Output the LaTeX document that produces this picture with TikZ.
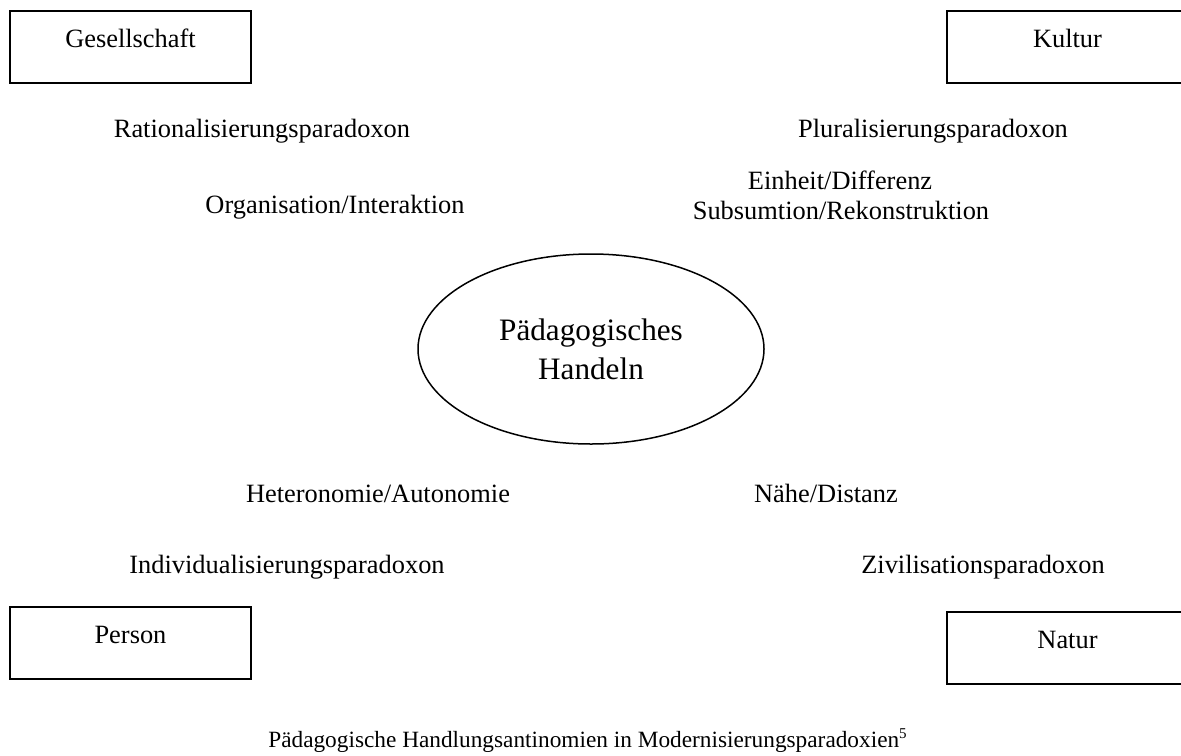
\documentclass[tikz,border=0pt]{standalone}
\usepackage{fontspec}
\setmainfont{Liberation Serif}
\usetikzlibrary{shapes.geometric}
\begin{document}
\begin{tikzpicture}[x=0.5pt,y=-0.5pt,
  box/.style={draw, line width=1pt, minimum width=120.5pt, text height=18pt, text depth=18pt, inner sep=0pt, font=\fontsize{13.2pt}{16pt}\selectfont},
  lbl/.style={anchor=base, inner sep=0pt, font=\fontsize{13.2pt}{16pt}\selectfont},
  caplbl/.style={anchor=base, inner sep=0pt, font=\fontsize{11.65pt}{14pt}\selectfont},
  ell/.style={draw, ellipse, line width=0.75pt, minimum width=173pt, minimum height=95pt, inner sep=0pt, align=center, font=\fontsize{15.6pt}{19.5pt}\selectfont}]
\useasboundingbox (0,0) rectangle (1181,755);
\clip (0,0) rectangle (1181,755);
% boxes
\node[box] (ges) at (130.5,47) {Gesellschaft};
\node[box] (kul) at (1067.5,47) {Kultur};
\node[box] (per) at (130.5,643) {Person};
\node[box] (nat) at (1067.5,648) {Natur};
% centre
\node[ell] (ph) at (591,349) {Pädagogisches\\Handeln};
% labels
\node[lbl] (rat) at (262,137) {Rationalisierungsparadoxon};
\node[lbl] (org) at (335,213) {Organisation/Interaktion};
\node[lbl] (plu) at (933,137) {Pluralisierungsparadoxon};
\node[lbl] (ein) at (840,189) {Einheit/Differenz};
\node[lbl] (sub) at (841,219) {Subsumtion/Rekonstruktion};
\node[lbl] (het) at (378,502) {Heteronomie/Autonomie};
\node[lbl] (ind) at (287,573) {Individualisierungsparadoxon};
\node[lbl] (nae) at (826,502) {Nähe/Distanz};
\node[lbl] (ziv) at (983,573) {Zivilisationsparadoxon};
\node[caplbl] (cap) at (588,747) {Pädagogische Handlungsantinomien in Modernisierungsparadoxien\textsuperscript{\fontsize{7.5pt}{9pt}\selectfont 5}};
\end{tikzpicture}
\end{document}
